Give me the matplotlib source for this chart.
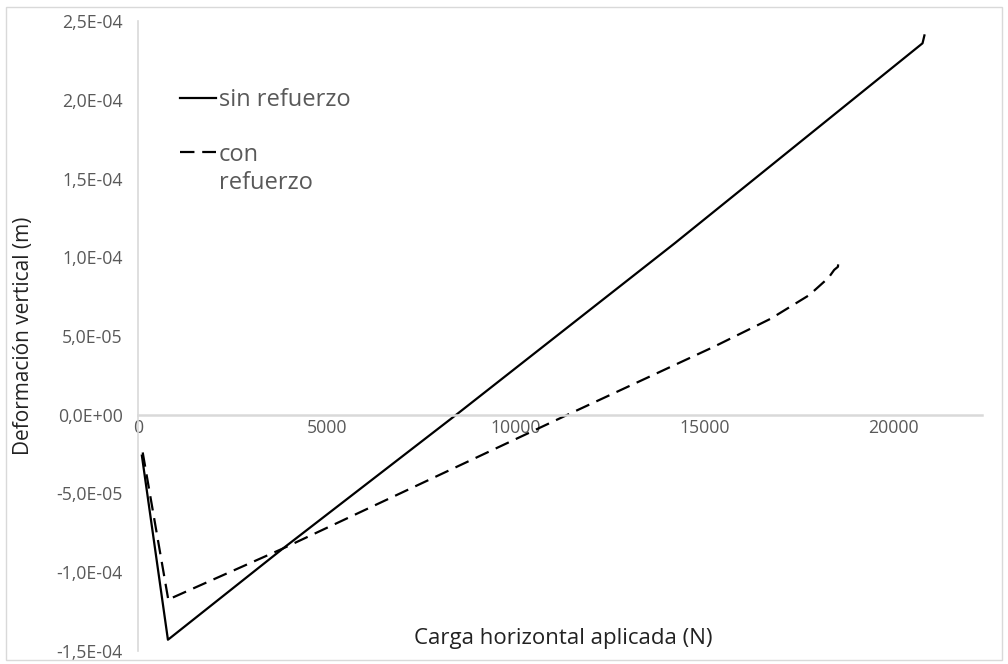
import numpy as np
import matplotlib
matplotlib.use("Agg")
import matplotlib.pyplot as plt
from matplotlib.patches import Rectangle

# carga (N) vs deformacion (m)
sin_x = [100, 790, 845, 3840, 8430, 14220, 20470, 20780, 20830]
sin_y = [-2.6e-05, -1.43e-04, -1.42e-04, -8.5e-05, 0.0, 1.09e-04, 2.30e-04, 2.36e-04, 2.41e-04]

con_x = [122, 803, 843, 3840, 11380, 15240, 16760, 17780, 18290, 18440, 18540, 18550]
con_y = [-2.4e-05, -1.18e-04, -1.17e-04, -8.5e-05, 0.0, 4.3e-05, 6.1e-05, 7.6e-05, 8.7e-05, 9.2e-05, 9.4e-05, 9.8e-05]

series_labels = ["sin refuerzo", "con", "refuerzo"]
x_ticks = [0, 5000, 10000, 15000, 20000]
y_ticks = [-1.5e-04, -1.0e-04, -5.0e-05, 0.0, 5.0e-05, 1.0e-04, 1.5e-04, 2.0e-04, 2.5e-04]

plt.rcParams['font.family'] = ['Open Sans', 'DejaVu Sans']

fig = plt.figure(figsize=(10.08, 6.64), dpi=100)
ax = fig.add_axes([0.137, 0.02, 0.837, 0.948])

ax.plot(sin_x, sin_y, color='black', lw=1.6, label=series_labels[0])
ax.plot(con_x, con_y, color='black', lw=1.6, linestyle=(0, (6.5, 3.5)), label=series_labels[1])

ax.set_xlim(0, 22350)
ax.set_ylim(-1.5e-04, 2.5e-04)
ax.set_xticks(x_ticks)
ax.set_xticklabels([str(t) for t in x_ticks])
ax.set_yticks(y_ticks)
ax.set_yticklabels([f"{v:.1E}".replace('.', ',') for v in y_ticks])

for s in ['top', 'right']:
    ax.spines[s].set_visible(False)
ax.spines['left'].set_color('#d9d9d9')
ax.spines['bottom'].set_color('#d9d9d9')
ax.spines['left'].set_linewidth(1.2)
ax.spines['bottom'].set_linewidth(1.8)
ax.spines['bottom'].set_position(('data', 0))
ax.tick_params(length=0, labelsize=12.7, labelcolor='#595959')
ax.tick_params(axis='x', pad=3)
ax.tick_params(axis='y', pad=11)

ax.text(-0.136, 0.5, "Deformación vertical (m)", transform=ax.transAxes, rotation=90,
        fontsize=15, color='#222222', ha='center', va='center')
fig.text(0.5585, 0.039, "Carga horizontal aplicada (N)", fontsize=16, color='#222222',
         ha='center', va='center')

leg = ax.legend(loc='upper left', bbox_to_anchor=(0.05, 0.894), frameon=False,
                fontsize=17, handlelength=1.5, handletextpad=0.12, labelspacing=1.3,
                borderpad=0, borderaxespad=0)
for t in leg.get_texts():
    t.set_color('#595959')
# segunda linea de la etiqueta, bajo "con"
ax.annotate(series_labels[2], xy=(0, 0.5), xycoords=leg.get_texts()[1],
            xytext=(0, -28), textcoords='offset pixels', ha='left', va='center',
            fontsize=17, color='#595959', zorder=10)

fig.patches.append(Rectangle((0.006, 0.006), 0.988, 0.984, transform=fig.transFigure,
                             fill=False, ec='#d9d9d9', lw=1))

fig.savefig("out.png", dpi=100)
